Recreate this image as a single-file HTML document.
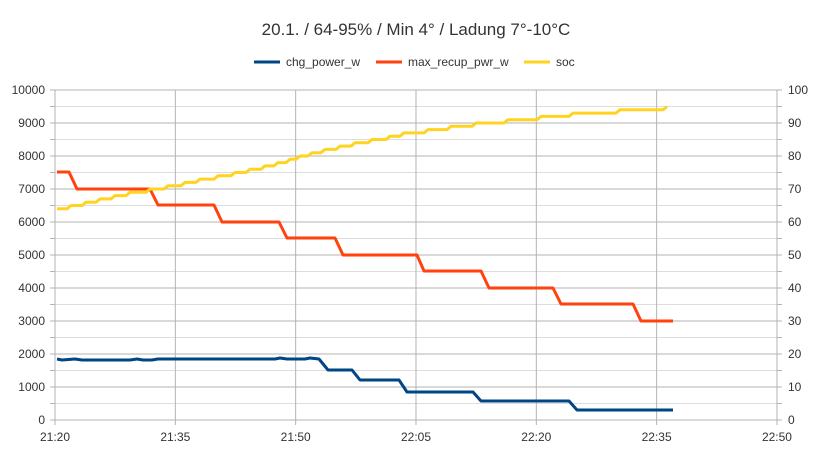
<!DOCTYPE html>
<html><head><meta charset="utf-8"><style>body{margin:0;background:#fff}svg{display:block;font-family:"Liberation Sans",sans-serif}</style></head><body>
<svg id="s" width="832" height="454" xmlns="http://www.w3.org/2000/svg">
<rect width="832" height="454" fill="#fff"/>
<text x="416" y="35" font-size="17" text-anchor="middle" fill="#333">20.1. / 64-95% / Min 4° / Ladung 7°-10°C</text>
<g font-size="12" fill="#333">
<line x1="254" y1="62" x2="280" y2="62" stroke="#004586" stroke-width="3"/><text x="286" y="66">chg_power_w</text>
<line x1="376" y1="62" x2="402" y2="62" stroke="#ff420e" stroke-width="3"/><text x="408" y="66">max_recup_pwr_w</text>
<line x1="524" y1="62" x2="550" y2="62" stroke="#ffd320" stroke-width="3"/><text x="556" y="66">soc</text>
</g>
<g id="grid"></g>
<g id="lab" font-size="12" fill="#333"></g>
<polyline fill="none" stroke="#ff420e" stroke-width="3" stroke-linejoin="round" points="57,172 69,172 77,189 150,189 158,205 214,205 222,222 279,222 287,238 335,238 343,255 417,255 424,271 481,271 489,288 553,288 561,304 633,304 641,321 673,321"/>
<polyline fill="none" stroke="#004586" stroke-width="3" stroke-linejoin="round" points="57,359 62,360 75,359 82,360 130,360 137,359 143,360 152,360 158,359 275,359 280,358 287,359 305,359 310,358 319,359 328,370 352,370 360,380 399,380 407,392 430,392 450,392 470,392 473,392 481,401 569,401 577,410 673,410"/>
<polyline id="soc" fill="none" stroke="#ffd320" stroke-width="3" stroke-linejoin="round"/>
</svg>
<script>
const g=document.getElementById('grid'),l=document.getElementById('lab');let h='',t='';
for(let i=0;i<=20;i++){const y=420-i*16.5;h+=`<line x1="55" x2="777" y1="${y}" y2="${y}" stroke="${i%2?'#dddddd':'#b3b3b3'}" stroke-width="1"/>`;
if(i%2==0){t+=`<text x="45" y="${y+4}" text-anchor="end">${i*500}</text><text x="788" y="${y+4}">${i*5}</text>`;}}
const xl=['21:20','21:35','21:50','22:05','22:20','22:35','22:50'];
for(let i=0;i<7;i++){const x=55+i*120.33;h+=`<line x1="${x}" x2="${x}" y1="90" y2="425" stroke="#b3b3b3"/>`;t+=`<text x="${x}" y="441" text-anchor="middle">${xl[i]}</text>`;}
h+=`<line x1="50" x2="55" y1="420" y2="420" stroke="#b3b3b3"/><line x1="777" x2="782" y1="420" y2="420" stroke="#b3b3b3"/>`;
for(let i=0;i<=20;i++){const y=420-i*16.5;h+=`<line x1="50" x2="55" y1="${y}" y2="${y}" stroke="#b3b3b3"/><line x1="777" x2="782" y1="${y}" y2="${y}" stroke="#b3b3b3"/>`;}
g.innerHTML=h;l.innerHTML=t;
const bx=[57,71,86,100,115,130,150,168,185,200,218,235,250,265,278,290,300,312,325,340,355,372,390,404,428,451,476,508,541,573,620,667];
let p=[];for(let k=0;k<bx.length;k++){const y=420-(64+k)*3.3;if(k>0)p.push(`${bx[k]},${y}`);else p.push(`${bx[k]},${y}`);const nx=k<bx.length-1?bx[k+1]-4:bx[k];if(k<bx.length-1)p.push(`${nx},${y}`);}
document.getElementById('soc').setAttribute('points',p.join(' '));
</script>
</body></html>
